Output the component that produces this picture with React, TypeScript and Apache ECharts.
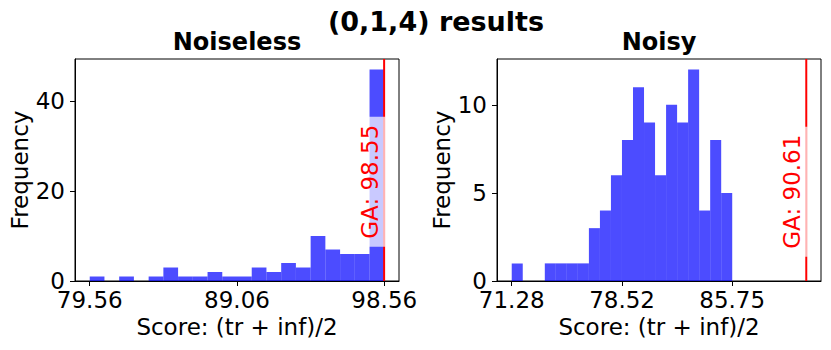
import React, { useEffect, useRef } from "react";
import * as echarts from "echarts";

// ---- data ----
const noiselessCounts = [1, 0, 1, 0, 1, 3, 1, 1, 2, 1, 1, 3, 2, 4, 3, 10, 7, 6, 6, 47];
const noisyCounts = [1, 0, 0, 1, 1, 1, 1, 3, 4, 6, 8, 11, 9, 6, 10, 9, 12, 4, 8, 5];
const noiselessRange = [79.56, 98.56];
const noisyRange = [71.28, 85.75];
const noiselessTicks = [79.56, 89.06, 98.56];
const noisyTicks = [71.28, 78.52, 85.75];
const noiselessGA = 98.55;
const noisyGA = 90.61;
const noiselessGALabelY = 22.07;
const noisyGALabelY = 5.07;
const subTitles = ["Noiseless", "Noisy"];
const mainTitle = "(0,1,4) results";
const xName = "Score: (tr + inf)/2";
const yName = "Frequency";

const FONT = '"DejaVu Sans", Verdana, sans-serif';

const GRID_LEFT = [75, 497];
const GRID_W = 324;
const GRID_TOP = 59;
const GRID_H = 222;

function buildPanel(
  idx: number,
  counts: number[],
  range: number[],
  ticks: number[],
  ga: number,
  gaLabelY: number,
  yInterval: number
) {
  const n = counts.length;
  const w = (range[1] - range[0]) / n;
  const lo = Math.min(range[0], ga);
  const hi = Math.max(range[1], ga);
  const span = hi - lo;
  const xMin = lo - 0.05 * span;
  const xMax = hi + 0.05 * span;
  const yMax = Math.max(...counts) * 1.05;

  const grid = {
    left: GRID_LEFT[idx],
    top: GRID_TOP,
    width: GRID_W,
    height: GRID_H,
    show: true,
    borderColor: "#000",
    borderWidth: 1,
    backgroundColor: "transparent",
  };

  const xAxis = {
    type: "value",
    gridIndex: idx,
    min: xMin,
    max: xMax,
    name: xName,
    nameLocation: "middle",
    nameGap: 34,
    nameTextStyle: { fontFamily: FONT, fontSize: 23, color: "#000" },
    axisLine: { show: true, onZero: false, lineStyle: { color: "#000", width: 1 } },
    axisTick: { show: true, length: 5, customValues: ticks, lineStyle: { color: "#000" } },
    axisLabel: {
      show: true,
      customValues: ticks,
      margin: 7,
      fontFamily: FONT,
      fontSize: 23,
      color: "#000",
      formatter: (v: number) => v.toFixed(2),
    },
    splitLine: { show: false },
  };

  const yAxis = {
    type: "value",
    gridIndex: idx,
    min: 0,
    max: yMax,
    interval: yInterval,
    name: yName,
    nameLocation: "middle",
    nameRotate: 90,
    nameGap: 42,
    nameTextStyle: { fontFamily: FONT, fontSize: 23, color: "#000" },
    axisLine: { show: true, lineStyle: { color: "#000", width: 1 } },
    axisTick: { show: true, length: 5, lineStyle: { color: "#000" } },
    axisLabel: { margin: 10, fontFamily: FONT, fontSize: 23, color: "#000", showMaxLabel: false },
    splitLine: { show: false },
  };

  const hist = {
    type: "custom",
    xAxisIndex: idx,
    yAxisIndex: idx,
    z: 2,
    data: counts.map((c, i) => [range[0] + i * w, range[0] + (i + 1) * w, c]),
    encode: { x: [0, 1], y: 2 },
    renderItem: (_p: any, api: any) => {
      const c = api.value(2);
      if (!c) return null;
      const a = api.coord([api.value(0), c]);
      const b = api.coord([api.value(1), 0]);
      return {
        type: "rect",
        shape: { x: a[0], y: a[1], width: b[0] - a[0], height: b[1] - a[1] },
        style: { fill: "rgba(0,0,255,0.7)" },
      };
    },
  };

  const gaLine = {
    type: "line",
    xAxisIndex: idx,
    yAxisIndex: idx,
    z: 3,
    symbol: "none",
    data: [
      [ga, 0],
      [ga, yMax],
    ],
    lineStyle: { color: "#ff0000", width: 2 },
    silent: true,
  };

  const gaLabel = {
    type: "custom",
    xAxisIndex: idx,
    yAxisIndex: idx,
    z: 4,
    data: [[ga, gaLabelY]],
    renderItem: (_p: any, api: any) => {
      const p = api.coord([api.value(0), api.value(1)]);
      return {
        type: "text",
        x: p[0] - 14,
        y: p[1],
        rotation: Math.PI / 2,
        style: {
          text: "GA: " + ga.toFixed(2),
          fill: "#ff0000",
          font: `23px ${FONT}`,
          align: "center",
          verticalAlign: "middle",
          lineHeight: 23,
          backgroundColor: "rgba(255,255,255,0.7)",
          padding: [4, 8, 4, 8],
        },
      };
    },
  };

  return { grid, xAxis, yAxis, series: [hist, gaLine, gaLabel] };
}

export default function App() {
  const ref = useRef<HTMLDivElement>(null);

  useEffect(() => {
    if (!ref.current) return;
    const chart = echarts.init(ref.current, null, { renderer: "svg" });
    const p0 = buildPanel(0, noiselessCounts, noiselessRange, noiselessTicks, noiselessGA, noiselessGALabelY, 20);
    const p1 = buildPanel(1, noisyCounts, noisyRange, noisyTicks, noisyGA, noisyGALabelY, 5);
    chart.setOption({
      animation: false,
      backgroundColor: "#fff",
      textStyle: { fontFamily: FONT },
      grid: [p0.grid, p1.grid],
      xAxis: [p0.xAxis, p1.xAxis],
      yAxis: [p0.yAxis, p1.yAxis],
      series: [...p0.series, ...p1.series],
      graphic: [
        {
          type: "text",
          x: 436,
          y: 21,
          style: { text: mainTitle, font: `bold 27px ${FONT}`, fill: "#000", align: "center", verticalAlign: "middle" },
        },
        {
          type: "text",
          x: GRID_LEFT[0] + GRID_W / 2,
          y: 42,
          style: { text: subTitles[0], font: `bold 24px ${FONT}`, fill: "#000", align: "center", verticalAlign: "middle" },
        },
        {
          type: "text",
          x: GRID_LEFT[1] + GRID_W / 2,
          y: 42,
          style: { text: subTitles[1], font: `bold 24px ${FONT}`, fill: "#000", align: "center", verticalAlign: "middle" },
        },
      ],
    });
    return () => chart.dispose();
  }, []);

  return (
    <div
      ref={ref}
      style={{ position: "fixed", left: 0, top: 0, width: 831, height: 350 }}
    />
  );
}
